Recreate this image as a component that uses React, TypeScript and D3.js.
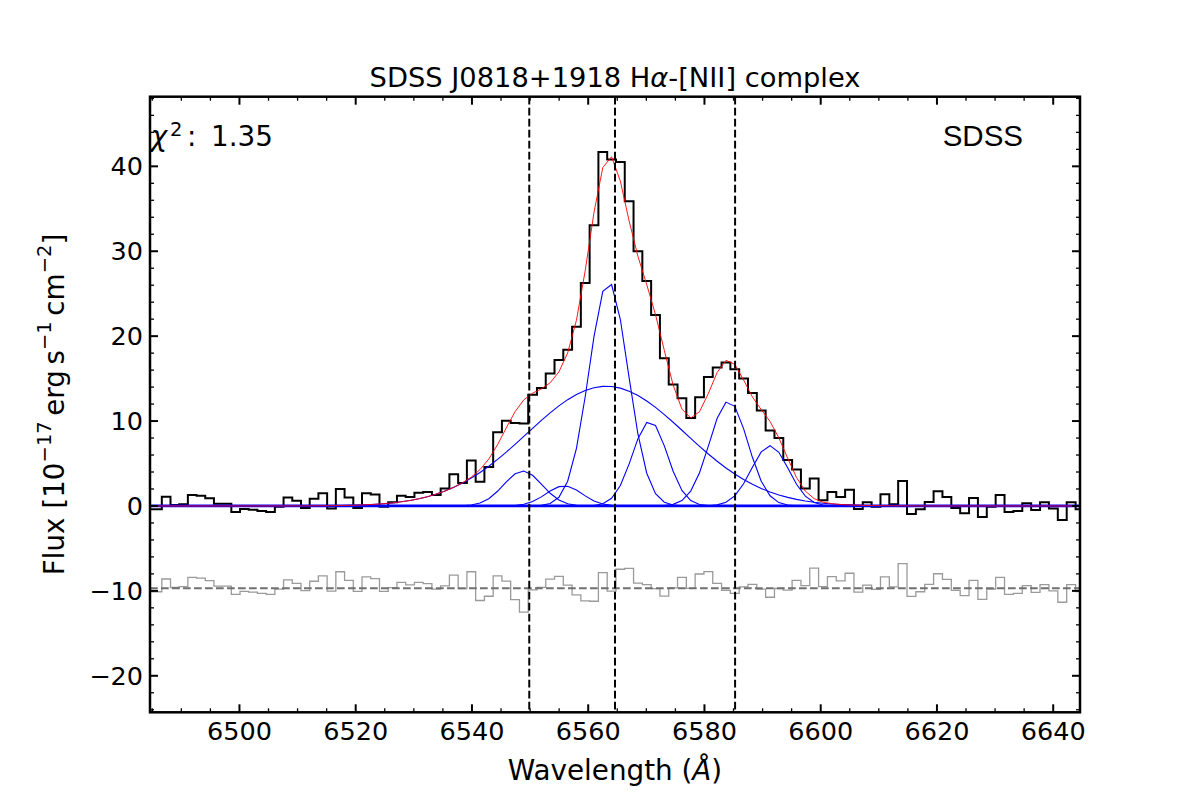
import { useRef, useEffect } from 'react';
import * as d3 from 'd3';

// SDSS log-linear pixel grid (loglam = COEFF0 + COEFF1 * i)
const LOGLAM0 = 3.81187;
const DLOGLAM = 0.0001;

// observed flux per pixel, 1e-17 erg/s/cm^2/A
const FLUX = [
  -0.4, -0.4, 1.1, 0.1, 0.2, 1.3, 1.2, 0.9, 0.25, 0.25,
  -0.7, -0.35, -0.45, -0.6, -0.7, -0.1, 1.0, 0.6, -0.25, 0.85,
  1.5, -0.3, 2.0, 1.0, -0.25, 1.5, 1.35, -0.1, 0.45, 1.2,
  1.05, 1.55, 1.65, 1.3, 2.05, 3.75, 2.7, 5.35, 2.85, 4.6,
  8.67, 10.04, 9.77, 9.7, 13.1, 13.9, 15.6, 17.2, 18.4, 21.1,
  26.25, 33.05, 41.7, 40.8, 40.5, 35.9, 30.0, 26.5, 22.5, 17.4,
  14.3, 12.7, 10.35, 12.8, 15.2, 16.3, 16.9, 16.1, 15.0, 13.3,
  11.25, 8.9, 8.0, 5.4, 4.3, 2.07, 3.24, 0.66, 1.64, 1.05,
  1.9, -0.35, 0.43, -0.08, 1.37, 0.2, 2.93, -0.94, -0.4, 0.47,
  1.72, 1.05, -0.23, -0.86, 0.94, -1.29, -0.08, 1.29, -0.7, -0.59,
  0.31, -0.47, 0.43, -0.31, -1.64, 0.43, -0.39,
];

// fitted gaussian components
const LINE_NAMES = ['Ha broad', 'Ha narrow', '[NII]6548', '[NII]6584', 'Ha wing', '[NII]6548 wing', '[NII]6584 wing'];
const LINE_CENTERS = [6563.1, 6563.5, 6548.75, 6584.16, 6570.6, 6555.85, 6591.26];
const LINE_SIGMAS = [13.6, 3.35, 3.3, 3.3, 3.0, 3.1, 3.2];
const LINE_AMPS = [14.1, 26.4, 4.12, 12.35, 10.0, 2.37, 7.1];
const CONTINUUM = 0;

// vacuum rest wavelengths marked with dashed lines
const REST_LINES = [6549.86, 6564.61, 6585.27];

const X_DOMAIN = [6484.61, 6644.61];
const Y_DOMAIN = [-24.3, 48.2];
const X_TICKS = [6500, 6520, 6540, 6560, 6580, 6600, 6620, 6640];
const Y_TICKS = [-20, -10, 0, 10, 20, 30, 40];
const RESID_OFFSET = -9.7;
const CHI2 = '1.35';

const W = 1200;
const H = 800;
const FONT = '"DejaVu Sans", sans-serif';

export default function App() {
  const svgRef = useRef<SVGSVGElement>(null);

  useEffect(() => {
    if (!svgRef.current) return;
    const svg = d3.select(svgRef.current);
    svg.selectAll('*').remove();

    const left = 150, right = 1080, top = 96.7, bottom = 712.3;
    const x = d3.scaleLinear().domain(X_DOMAIN).range([left, right]);
    const y = d3.scaleLinear().domain(Y_DOMAIN).range([bottom, top]);

    const wave = FLUX.map((_, i) => Math.pow(10, LOGLAM0 + DLOGLAM * i));
    const comps = LINE_CENTERS.map((c, j) =>
      wave.map((w) => LINE_AMPS[j] * Math.exp(-((w - c) ** 2) / (2 * LINE_SIGMAS[j] ** 2)))
    );
    const model = wave.map((_, i) => CONTINUUM + d3.sum(comps, (cp) => cp[i]));
    const resid = FLUX.map((f, i) => f - model[i] + RESID_OFFSET);

    svg.append('defs').append('clipPath').attr('id', 'plot-clip')
      .append('rect')
      .attr('x', left).attr('y', top)
      .attr('width', right - left).attr('height', bottom - top);

    const plot = svg.append('g').attr('clip-path', 'url(#plot-clip)');

    const step = d3.line<number>()
      .x((_, i) => x(wave[i]))
      .y((d) => y(d))
      .curve(d3.curveStep);
    const poly = d3.line<number>()
      .x((_, i) => x(wave[i]))
      .y((d) => y(d));

    // spectrum
    plot.append('path').attr('d', step(FLUX))
      .attr('fill', 'none').attr('stroke', '#000').attr('stroke-width', 2);

    // residuals
    plot.append('path').attr('d', step(resid))
      .attr('fill', 'none').attr('stroke', '#9a9a9a').attr('stroke-width', 1.3);
    plot.append('line')
      .attr('x1', left).attr('x2', right)
      .attr('y1', y(RESID_OFFSET)).attr('y2', y(RESID_OFFSET))
      .attr('stroke', '#707070').attr('stroke-width', 2)
      .attr('stroke-dasharray', '7.7,3.3');

    // components
    comps.forEach((cp, j) => {
      plot.append('path').attr('d', poly(cp))
        .attr('fill', 'none').attr('stroke', '#0000ff').attr('stroke-width', 1.1)
        .attr('data-name', LINE_NAMES[j]);
    });
    plot.append('path').attr('d', poly(wave.map(() => CONTINUUM)))
      .attr('fill', 'none').attr('stroke', '#0000ff').attr('stroke-width', 2.8);

    // total model
    plot.append('path').attr('d', poly(model))
      .attr('fill', 'none').attr('stroke', '#ff0000').attr('stroke-width', 0.9);

    // rest wavelengths
    REST_LINES.forEach((l) => {
      plot.append('line')
        .attr('x1', x(l)).attr('x2', x(l))
        .attr('y1', top).attr('y2', bottom)
        .attr('stroke', '#000').attr('stroke-width', 2)
        .attr('stroke-dasharray', '7.7,3.3');
    });

    // ticks, inward on all four sides
    const axes = svg.append('g').attr('stroke', '#000');
    const xMinor = d3.range(6485, 6645, 5).filter((v) => !X_TICKS.includes(v));
    const yMinor = d3.range(-24, 49, 2).filter((v) => !Y_TICKS.includes(v));
    const tick = (x1: number, y1: number, x2: number, y2: number, wdt: number) =>
      axes.append('line').attr('x1', x1).attr('y1', y1).attr('x2', x2).attr('y2', y2).attr('stroke-width', wdt);
    X_TICKS.forEach((v) => { tick(x(v), bottom, x(v), bottom - 8, 2); tick(x(v), top, x(v), top + 8, 2); });
    xMinor.forEach((v) => { tick(x(v), bottom, x(v), bottom - 4, 1.3); tick(x(v), top, x(v), top + 4, 1.3); });
    Y_TICKS.forEach((v) => { tick(left, y(v), left + 8, y(v), 2); tick(right, y(v), right - 8, y(v), 2); });
    yMinor.forEach((v) => { tick(left, y(v), left + 4, y(v), 1.3); tick(right, y(v), right - 4, y(v), 1.3); });

    svg.append('rect')
      .attr('x', left).attr('y', top)
      .attr('width', right - left).attr('height', bottom - top)
      .attr('fill', 'none').attr('stroke', '#000').attr('stroke-width', 2.5);

    const fmt = (v: number) => (v < 0 ? '\u2212' + Math.abs(v) : String(v));
    svg.append('g').selectAll('text').data(X_TICKS).join('text')
      .attr('x', (d) => x(d)).attr('y', 740)
      .attr('text-anchor', 'middle')
      .attr('font-family', FONT).attr('font-size', 25.5)
      .text((d) => String(d));
    svg.append('g').selectAll('text').data(Y_TICKS).join('text')
      .attr('x', 143).attr('y', (d) => y(d) + 9)
      .attr('text-anchor', 'end')
      .attr('font-family', FONT).attr('font-size', 25.5)
      .text((d) => fmt(d));

    // title
    const title = svg.append('text')
      .attr('x', (left + right) / 2).attr('y', 86.5)
      .attr('text-anchor', 'middle')
      .attr('font-family', FONT).attr('font-size', 27.3);
    title.append('tspan').text('SDSS J0818+1918 H');
    title.append('tspan').attr('font-style', 'italic').text('\u03b1');
    title.append('tspan').text('-[NII] complex');

    // x label
    const xl = svg.append('text')
      .attr('x', (left + right) / 2).attr('y', 780)
      .attr('text-anchor', 'middle')
      .attr('font-family', FONT).attr('font-size', 27.8);
    xl.append('tspan').text('Wavelength (');
    xl.append('tspan').attr('font-style', 'italic').text('\u00c5');
    xl.append('tspan').text(')');

    // y label
    const yl = svg.append('text')
      .attr('transform', `translate(63.5,${(top + bottom) / 2}) rotate(-90)`)
      .attr('text-anchor', 'middle')
      .attr('font-family', FONT).attr('font-size', 27.8);
    const sup = (t: string) => yl.append('tspan').attr('font-size', 19.5).attr('dy', -13).text(t);
    const base = (t: string) => yl.append('tspan').attr('dy', 13).text(t);
    yl.append('tspan').text('Flux [10');
    sup('\u221217');
    base('\u2009erg\u2009s');
    sup('\u22121');
    base('\u2009cm');
    sup('\u22122');
    base(']');

    // chi-square annotation
    const chi = svg.append('text')
      .attr('font-family', FONT).attr('font-size', 27.8).attr('y', 146);
    chi.append('tspan').attr('x', 150.7).attr('font-style', 'italic').text('\u03c7');
    chi.append('tspan').attr('x', 170).attr('dy', -10).attr('font-size', 19.5).text('2');
    chi.append('tspan').attr('x', 187).attr('dy', 10).text(':');
    chi.append('tspan').attr('x', 211).text(CHI2);

    svg.append('text')
      .attr('x', 1023).attr('y', 146)
      .attr('text-anchor', 'end')
      .attr('font-family', '"Liberation Sans", Arial, sans-serif').attr('font-size', 29.5)
      .text('SDSS');
  }, []);

  return (
    <svg
      ref={svgRef}
      width={W}
      height={H}
      style={{ position: 'absolute', left: 0, top: 0, background: '#fff' }}
    />
  );
}
